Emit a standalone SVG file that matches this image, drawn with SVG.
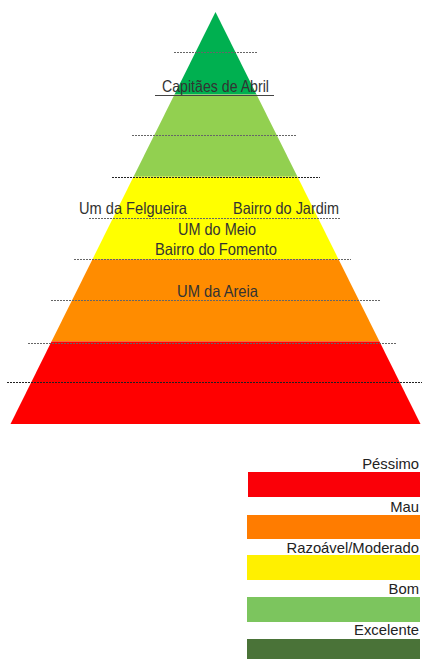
<svg xmlns="http://www.w3.org/2000/svg" width="422" height="659" viewBox="0 0 422 659">
<style>
.lbl{font-family:"Liberation Sans",Arial,sans-serif;font-size:16.5px;fill:#333;}
.leg{font-family:"Liberation Sans",Arial,sans-serif;font-size:14.8px;fill:#222;text-anchor:end;}
.dl{stroke:#666;stroke-width:1;stroke-dasharray:2 1;fill:none;}
.dd{stroke:#222;stroke-width:1;stroke-dasharray:2 1;fill:none;}
</style>
<rect width="422" height="659" fill="#fff"/>
<g id="pyramid">
<polygon id="band-excelente" points="215.5,12 256.5,94.4 174.5,94.4" fill="#00B050"/>
<polygon id="band-bom" points="174.5,94.4 256.5,94.4 297.5,176.8 133.5,176.8" fill="#92D050"/>
<polygon id="band-razoavel" points="133.5,176.8 297.5,176.8 338.5,259.2 92.5,259.2" fill="#FFFF00"/>
<polygon id="band-mau" points="92.5,259.2 338.5,259.2 379.5,341.6 51.5,341.6" fill="#FF8C00"/>
<polygon id="band-pessimo" points="51.5,341.6 379.5,341.6 420.5,424 10.5,424" fill="#FF0000"/>
</g>
<g id="guides">
<line class="dl" x1="174" y1="52.5" x2="257" y2="52.5"/>
<line x1="155" y1="95.5" x2="274" y2="95.5" stroke="#444" stroke-width="1"/>
<line class="dl" x1="132" y1="135.5" x2="297" y2="135.5"/>
<line class="dd" x1="112" y1="177.5" x2="320" y2="177.5"/>
<line class="dl" x1="89" y1="218.5" x2="340" y2="218.5"/>
<line class="dl" x1="74" y1="259.5" x2="351" y2="259.5"/>
<line class="dl" x1="51" y1="300.5" x2="381" y2="300.5"/>
<line class="dl" x1="28" y1="343.5" x2="397" y2="343.5"/>
<line class="dd" x1="7" y1="382.5" x2="422" y2="382.5"/>
</g>
<g id="labels">
<text id="t-capitaes" class="lbl" x="162" y="92" textLength="107" lengthAdjust="spacingAndGlyphs">Capitães de Abril</text>
<text id="t-felgueira" class="lbl" x="79" y="214" textLength="108" lengthAdjust="spacingAndGlyphs">Um da Felgueira</text>
<text id="t-jardim" class="lbl" x="233" y="214" textLength="106" lengthAdjust="spacingAndGlyphs">Bairro do Jardim</text>
<text id="t-meio" class="lbl" x="178" y="235" textLength="78" lengthAdjust="spacingAndGlyphs">UM do Meio</text>
<text id="t-fomento" class="lbl" x="155" y="255" textLength="122" lengthAdjust="spacingAndGlyphs">Bairro do Fomento</text>
<text id="t-areia" class="lbl" x="177" y="297" textLength="81" lengthAdjust="spacingAndGlyphs">UM da Areia</text>
</g>
<g id="legend">
<g id="leg-pessimo"><text class="leg" x="419" y="469">Péssimo</text><rect x="248" y="472" width="172" height="25" fill="#FA0008"/></g>
<g id="leg-mau"><text class="leg" x="419" y="512">Mau</text><rect x="247" y="515" width="173" height="24" fill="#FF7C00"/></g>
<g id="leg-razoavel"><text class="leg" x="419" y="553">Razoável/Moderado</text><rect x="247" y="555" width="173" height="25" fill="#FFF000"/></g>
<g id="leg-bom"><text class="leg" x="419" y="594">Bom</text><rect x="247" y="597" width="173" height="25" fill="#7CC55E"/></g>
<g id="leg-excelente"><text class="leg" x="419" y="635">Excelente</text><rect x="247" y="639" width="173" height="20" fill="#4A7338"/></g>
</g>
</svg>
